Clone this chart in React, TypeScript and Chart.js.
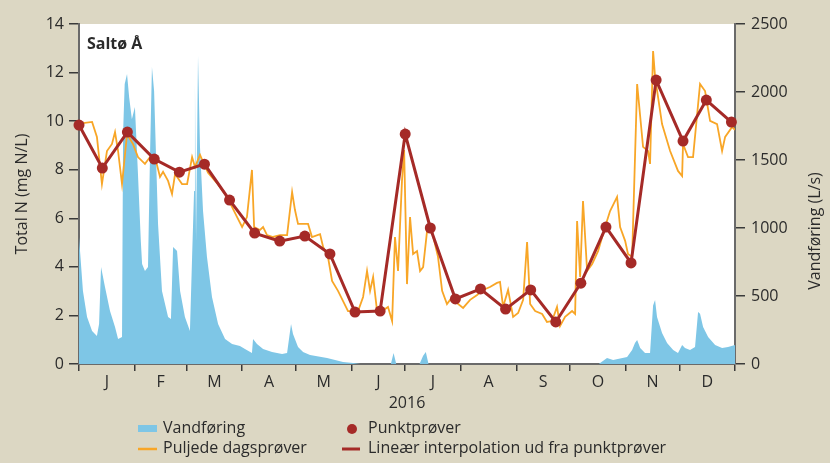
import React, { useEffect, useRef } from 'react';
import { Chart, registerables } from 'chart.js';

Chart.register(...registerables);

// Month boundaries (day of year, 2016 is a leap year) and labels
const monthStarts = [0, 31, 60, 91, 121, 152, 182, 213, 244, 274, 305, 335, 366];
const monthLabels = ['J', 'F', 'M', 'A', 'M', 'J', 'J', 'A', 'S', 'O', 'N', 'D'];
const leftTicks = [0, 2, 4, 6, 8, 10, 12, 14];
const rightTicks = [0, 500, 1000, 1500, 2000, 2500];

// Vandføring (L/s), day of year
const flowDays = [0, 1.1, 2.2, 4.5, 7.3, 10, 11.2, 12.3, 14.5, 17.3, 20.1, 21.8, 24, 24.6, 25.5, 26.8, 28, 29.5, 31.2, 32.9, 34.5, 35.2, 36.8, 38.5, 39.6, 40.7, 41.9, 44.1, 46.3, 48, 49.7, 51.3, 52.5, 54.7, 56.4, 59.1, 61.9, 63.1, 64.2, 64.7, 65.3, 66.4, 67.5, 69.2, 71.4, 74.2, 77.6, 81.5, 85.4, 89.8, 92.6, 96.5, 97.1, 99.3, 102.7, 107.7, 113.3, 116.1, 118.3, 119.4, 122.2, 125, 128.9, 138.4, 147.3, 152.9, 157, 174, 175.5, 177, 190, 192, 193.5, 195, 290, 294.6, 298, 305.8, 308.6, 310.2, 311.4, 313.1, 315.8, 318.6, 320.3, 321.4, 322.5, 325.3, 328.1, 331.5, 334.2, 336.5, 338.1, 340.9, 343.7, 345.4, 346.5, 348.2, 351, 354.9, 358.8, 362.1, 366];
const flowValues = [934, 735, 537, 346, 243, 206, 294, 713, 566, 390, 272, 184, 199, 1700, 2059, 2132, 1960, 1800, 1890, 1397, 900, 735, 684, 713, 1522, 2184, 2007, 1029, 537, 441, 346, 330, 860, 831, 537, 346, 243, 787, 1272, 2059, 900, 2265, 1596, 1125, 787, 493, 294, 184, 147, 132, 110, 80, 184, 147, 110, 88, 74, 80, 294, 221, 125, 88, 66, 44, 15, 7, 0, 0, 80, 0, 0, 60, 88, 0, 0, 44, 30, 51, 103, 154, 176, 118, 81, 81, 430, 471, 346, 228, 154, 103, 81, 140, 118, 103, 125, 382, 370, 272, 199, 140, 118, 125, 140];

// Puljede dagsprøver (mg N/L)
const poolDays = [0, 7.3, 10, 12.8, 15.6, 18.4, 20.1, 21.8, 24, 26.8, 30.1, 32.9, 36.8, 39.6, 42.4, 45.2, 46.9, 49.7, 51.9, 53.6, 57.5, 60.3, 63.1, 64.7, 67.5, 69.2, 72, 77, 82.6, 88.2, 91, 93.7, 96.5, 97.7, 101, 102.7, 104.9, 108.3, 112.2, 116.1, 118.9, 120.5, 122.2, 127.8, 130, 134.5, 136.2, 138.9, 141.2, 144.5, 150.1, 155.7, 158.5, 160.7, 162.4, 164.1, 166.3, 169.1, 172.4, 174.7, 176.3, 178, 180.2, 181.4, 183, 184.7, 186.4, 188.6, 190.3, 192, 194.2, 197, 200.3, 202.6, 205.3, 207, 210.9, 214.3, 218.2, 222.1, 225.4, 229.3, 233.2, 234.9, 236.6, 239.4, 242.2, 245, 247.8, 250, 251.7, 254.5, 258.4, 261.1, 263.9, 266.7, 268.4, 271.2, 275.1, 276.8, 277.9, 279.6, 281.2, 283.5, 286.3, 289.6, 293.5, 296.3, 300.2, 301.9, 304.7, 306.3, 308.6, 311.4, 314.7, 317.5, 318.6, 320.3, 321.4, 325.3, 329.8, 334.2, 336.5, 337, 339.8, 342.6, 346.5, 349.3, 352.1, 356, 358.8, 360.5, 364.4, 366];
const poolValues = [9.9, 9.97, 9.35, 7.41, 8.77, 9.06, 9.55, 8.77, 7.41, 9.47, 9.06, 8.52, 8.24, 8.52, 8.52, 7.7, 7.91, 7.54, 7.0, 7.82, 7.41, 7.41, 8.52, 8.11, 8.61, 8.32, 7.87, 7.45, 6.88, 6.05, 5.64, 6.05, 7.99, 5.64, 5.52, 5.64, 5.31, 5.23, 5.31, 5.31, 7.08, 6.34, 5.77, 5.77, 5.23, 5.35, 4.82, 4.41, 3.42, 3.01, 2.18, 2.18, 2.76, 3.83, 3.01, 3.58, 2.18, 2.18, 2.35, 1.77, 5.23, 3.83, 7.54, 8.81, 3.29, 6.05, 4.53, 4.65, 3.83, 3.99, 5.48, 5.44, 4.41, 3.01, 2.47, 2.64, 2.51, 2.31, 2.64, 2.84, 3.05, 3.17, 3.34, 3.38, 2.35, 3.05, 1.94, 2.1, 2.64, 5.02, 2.47, 2.18, 2.06, 1.73, 1.77, 2.35, 1.56, 1.94, 2.18, 2.06, 5.89, 3.58, 6.71, 3.83, 4.12, 4.65, 5.64, 6.3, 6.88, 5.64, 5.07, 4.53, 4.41, 11.53, 8.94, 8.77, 8.24, 12.89, 11.82, 9.88, 8.77, 7.95, 7.74, 9.06, 8.52, 8.52, 11.53, 11.24, 10.01, 9.88, 8.77, 9.35, 9.76, 9.64];

// Punktprøver (mg N/L)
const sampleDays = [0, 13, 27, 42, 56, 70, 84, 98, 112, 126, 140, 154, 168, 182, 196, 210, 224, 238, 252, 266, 280, 294, 308, 322, 337, 350, 364];
const sampleValues = [9.84, 8.07, 9.55, 8.44, 7.9, 8.23, 6.75, 5.39, 5.06, 5.27, 4.53, 2.14, 2.18, 9.47, 5.6, 2.68, 3.09, 2.26, 3.05, 1.73, 3.33, 5.64, 4.16, 11.69, 9.18, 10.87, 9.96];

const BG = '#dcd7c3';
const BLUE = '#7ec6e6';
const ORANGE = '#f8a627';
const RED = '#a52a27';
const TEXT = '#2b2b2b';
const AXIS = '#6a6a6a';
const FONT = "'Open Sans', sans-serif";

const monthTickValues: number[] = [];
monthStarts.forEach((s, i) => {
  monthTickValues.push(s);
  if (i < monthLabels.length) monthTickValues.push((s + monthStarts[i + 1]) / 2);
});

const decor = {
  id: 'decor',
  beforeDraw(chart: any) {
    const { ctx, chartArea: a, width, height } = chart;
    ctx.save();
    ctx.fillStyle = BG;
    ctx.fillRect(0, 0, width, height);
    ctx.fillStyle = '#ffffff';
    ctx.fillRect(a.left, a.top, a.right - a.left, a.bottom - a.top);
    ctx.restore();
  },
  afterDraw(chart: any) {
    const { ctx, chartArea: a } = chart;
    ctx.save();
    ctx.fillStyle = TEXT;
    ctx.textBaseline = 'middle';
    ctx.textAlign = 'left';
    ctx.font = `bold 16px ${FONT}`;
    ctx.fillText('Saltø Å', a.left + 8, 44);

    // right axis title (reads bottom to top)
    ctx.save();
    ctx.font = `16px ${FONT}`;
    ctx.translate(815, 231);
    ctx.rotate(-Math.PI / 2);
    ctx.textAlign = 'center';
    ctx.fillText('Vandføring (L/s)', 0, 0);
    ctx.restore();

    // legend
    ctx.font = `16px ${FONT}`;
    ctx.textAlign = 'left';
    ctx.fillStyle = BLUE;
    ctx.fillRect(138, 425, 19, 7);
    ctx.strokeStyle = ORANGE;
    ctx.lineWidth = 2.5;
    ctx.beginPath();
    ctx.moveTo(138, 449);
    ctx.lineTo(157, 449);
    ctx.stroke();
    ctx.fillStyle = RED;
    ctx.beginPath();
    ctx.arc(352, 429, 5, 0, Math.PI * 2);
    ctx.fill();
    ctx.strokeStyle = RED;
    ctx.lineWidth = 3;
    ctx.beginPath();
    ctx.moveTo(342, 449);
    ctx.lineTo(360, 449);
    ctx.stroke();
    ctx.fillStyle = TEXT;
    ctx.fillText('Vandføring', 163, 428);
    ctx.fillText('Puljede dagsprøver', 163, 448);
    ctx.fillText('Punktprøver', 368, 428);
    ctx.fillText('Lineær interpolation ud fra punktprøver', 368, 448);
    ctx.restore();
  },
};

export default function App() {
  const ref = useRef<HTMLCanvasElement>(null);

  useEffect(() => {
    if (!ref.current) return;
    const chart = new Chart(ref.current, {
      type: 'line',
      data: {
        datasets: [
          {
            label: 'Lineær interpolation ud fra punktprøver',
            data: sampleDays.map((d, i) => ({ x: d, y: sampleValues[i] })),
            yAxisID: 'y',
            borderColor: RED,
            backgroundColor: RED,
            borderWidth: 3,
            pointRadius: 5.5,
            pointBackgroundColor: RED,
            pointBorderWidth: 0,
            tension: 0,
            clip: false,
            order: 1,
          } as any,
          {
            label: 'Puljede dagsprøver',
            data: poolDays.map((d, i) => ({ x: d, y: poolValues[i] })),
            yAxisID: 'y',
            borderColor: ORANGE,
            borderWidth: 1.8,
            pointRadius: 0,
            tension: 0,
            order: 2,
          },
          {
            label: 'Vandføring',
            data: flowDays.map((d, i) => ({ x: d, y: flowValues[i] })),
            yAxisID: 'y1',
            borderColor: 'rgba(0,0,0,0)',
            borderWidth: 0,
            backgroundColor: BLUE,
            fill: 'origin',
            pointRadius: 0,
            tension: 0,
            order: 3,
          },
        ],
      },
      options: {
        animation: false,
        responsive: true,
        maintainAspectRatio: false,
        layout: { padding: { top: 24, left: 0, right: 0, bottom: 0 } },
        plugins: { legend: { display: false }, tooltip: { enabled: false } },
        scales: {
          x: {
            type: 'linear',
            min: 0,
            max: 366,
            afterBuildTicks: (axis: any) => {
              axis.ticks = monthTickValues.map((v) => ({ value: v }));
            },
            afterFit: (axis: any) => {
              axis.height = 99;
            },
            ticks: {
              autoSkip: false,
              maxRotation: 0,
              padding: 2,
              color: TEXT,
              font: { family: FONT, size: 16 },
              callback: (value: any) => {
                const i = monthStarts.indexOf(value);
                if (i >= 0) return '';
                const k = monthStarts.findIndex((s, j) => j < 12 && (s + monthStarts[j + 1]) / 2 === value);
                return k >= 0 ? monthLabels[k] : '';
              },
            },
            grid: {
              drawOnChartArea: false,
              tickLength: 7,
              lineWidth: 1.5,
              tickColor: (ctx: any) =>
                ctx.tick && monthStarts.includes(ctx.tick.value) ? '#3a3a3a' : 'rgba(0,0,0,0)',
            },
            border: { display: true, color: AXIS, width: 2 },
            title: {
              display: true,
              text: '2016',
              color: TEXT,
              font: { family: FONT, size: 16 },
              padding: { top: 0, bottom: 50 },
            },
          },
          y: {
            position: 'left',
            min: 0,
            max: 14,
            afterBuildTicks: (axis: any) => {
              axis.ticks = leftTicks.map((v) => ({ value: v }));
            },
            afterFit: (axis: any) => {
              axis.width = 79;
            },
            ticks: { color: TEXT, padding: 5, font: { family: FONT, size: 16 }, callback: (v: any) => String(v) },
            grid: { drawOnChartArea: false, tickLength: 10, tickColor: '#3a3a3a', lineWidth: 1.5 },
            border: { display: true, color: AXIS, width: 2 },
            title: {
              display: true,
              text: 'Total N (mg N/L)',
              color: TEXT,
              font: { family: FONT, size: 16 },
              padding: { top: 13, bottom: 0 },
            },
          },
          y1: {
            position: 'right',
            min: 0,
            max: 2500,
            afterBuildTicks: (axis: any) => {
              axis.ticks = rightTicks.map((v) => ({ value: v }));
            },
            afterFit: (axis: any) => {
              axis.width = 95;
            },
            ticks: { color: TEXT, padding: 6, font: { family: FONT, size: 16 }, callback: (v: any) => String(v) },
            grid: { drawOnChartArea: false, tickLength: 10, tickColor: '#3a3a3a', lineWidth: 1.5 },
            border: { display: true, color: AXIS, width: 2 },
          },
        },
      },
      plugins: [decor],
    });
    return () => chart.destroy();
  }, []);

  return (
    <div style={{ position: 'absolute', left: 0, top: 0, width: 830, height: 463 }}>
      <canvas ref={ref} />
    </div>
  );
}
